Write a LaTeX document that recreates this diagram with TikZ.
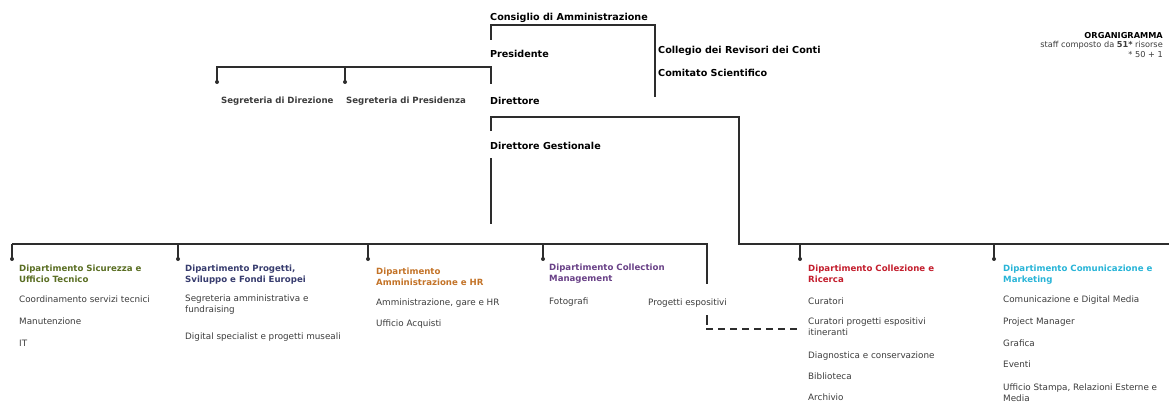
\documentclass[tikz,border=0pt]{standalone}
\usepackage{fontspec}
\setmainfont{DejaVu Sans}
\definecolor{ln}{RGB}{45,45,45}
\definecolor{tx}{RGB}{60,60,60}
\definecolor{dA}{RGB}{90,110,35}
\definecolor{dB}{RGB}{55,60,110}
\definecolor{dC}{RGB}{195,115,40}
\definecolor{dD}{RGB}{105,65,135}
\definecolor{dE}{RGB}{195,30,45}
\definecolor{dF}{RGB}{40,180,215}
\begin{document}
\begin{tikzpicture}[x=1pt,y=-1pt,
  lbl/.style={anchor=base west,inner sep=0pt,font=\fontsize{8.8}{11}\selectfont,text=tx,align=left},
  blbl/.style={anchor=base west,inner sep=0pt,font=\fontsize{9.6}{11}\selectfont\bfseries,text=black,align=left},
  sbl/.style={anchor=base west,inner sep=0pt,font=\fontsize{8.6}{11}\selectfont\bfseries,text=tx},
  dept/.style={lbl,font=\fontsize{8.6}{10.5}\selectfont\bfseries},
  conn/.style={draw=ln,line width=1.6pt},
  dot/.style={circle,fill=ln,inner sep=0pt,minimum size=4pt}]
\useasboundingbox (0,0) rectangle (1169,404);
% top titles
\node[blbl] (cda) at (490,21) {Consiglio di Amministrazione};
\node[blbl] (pres) at (490,57) {Presidente};
\node[blbl] (coll) at (658,54) {Collegio dei Revisori dei Conti};
\node[blbl] (comi) at (658,76) {Comitato Scientifico};
\node[blbl] (dir) at (490,104) {Direttore};
\node[blbl] (dirg) at (490,149) {Direttore Gestionale};
\node[sbl] (sd) at (221,103) {Segreteria di Direzione};
\node[sbl] (sp) at (346,103) {Segreteria di Presidenza};
\node[anchor=base east,inner sep=0pt,font=\fontsize{8.2}{9}\selectfont\bfseries] (org) at (1163,39) {ORGANIGRAMMA};
\node[anchor=base east,inner sep=0pt,font=\fontsize{8.2}{9}\selectfont,text=tx] (staff) at (1163,48) {staff composto da \textbf{51*} risorse};
\node[anchor=base east,inner sep=0pt,font=\fontsize{8.2}{9}\selectfont,text=tx] (note) at (1163,57) {* 50 + 1};
% connectors
\coordinate (c1) at (491,40);
\coordinate (c2) at (491,25);
\coordinate (c3) at (655,25);
\coordinate (c4) at (655,97);
\draw[conn] (c1) -- (c2) -- (c3) -- (c4);
\coordinate (s0) at (491,84);
\coordinate (s1) at (217,82);
\coordinate (s2) at (345,82);
\draw[conn] (s1) -- (217,67) -- (491,67) -- (s0);
\draw[conn] (345,67) -- (s2);
\node[dot] at (s1) {};
\node[dot] at (s2) {};
\coordinate (g1) at (491,131);
\draw[conn] (g1) -- (491,117) -- (739,117) -- (739,244) -- (1169,244);
\coordinate (g2) at (491,158);
\coordinate (g3) at (491,224);
\draw[conn] (g2) -- (g3);
\draw[conn] (12,244) -- (707,244) -- (707,284);
\foreach \xx in {12,178,368,543,800,994}{
  \draw[conn] (\xx,244) -- (\xx,258);
  \node[dot] at (\xx,259) {};
}
\draw[conn] (707,315) -- (707,325);
\draw[conn,dashed,dash pattern=on 7pt off 5pt] (706,329) -- (800,329);
% departments
\node[dept,text=dA] (d1) at (19,282) {Dipartimento Sicurezza e\\Ufficio Tecnico};
\node[lbl] at (19,302) {Coordinamento servizi tecnici};
\node[lbl] at (19,324) {Manutenzione};
\node[lbl] at (19,346) {IT};
\node[dept,text=dB] (d2) at (185,282) {Dipartimento Progetti,\\Sviluppo e Fondi Europei};
\node[lbl,font=\fontsize{8.8}{10.5}\selectfont] at (185,312) {Segreteria amministrativa e\\fundraising};
\node[lbl] at (185,339) {Digital specialist e progetti museali};
\node[dept,text=dC] (d3) at (376,285) {Dipartimento\\Amministrazione e HR};
\node[lbl] at (376,305) {Amministrazione, gare e HR};
\node[lbl] at (376,326) {Ufficio Acquisti};
\node[dept,text=dD] (d4) at (549,281) {Dipartimento Collection\\Management};
\node[lbl] at (549,304) {Fotografi};
\node[lbl] at (648,305) {Progetti espositivi};
\node[dept,text=dE] (d5) at (808,282) {Dipartimento Collezione e\\Ricerca};
\node[lbl] at (808,304) {Curatori};
\node[lbl,font=\fontsize{8.8}{10.5}\selectfont] at (808,335) {Curatori progetti espositivi\\itineranti};
\node[lbl] at (808,358) {Diagnostica e conservazione};
\node[lbl] at (808,379) {Biblioteca};
\node[lbl] at (808,400) {Archivio};
\node[dept,text=dF] (d6) at (1003,282) {Dipartimento Comunicazione e\\Marketing};
\node[lbl] at (1003,302) {Comunicazione e Digital Media};
\node[lbl] at (1003,324) {Project Manager};
\node[lbl] at (1003,346) {Grafica};
\node[lbl] at (1003,367) {Eventi};
\node[lbl,font=\fontsize{8.8}{10.5}\selectfont] at (1003,401) {Ufficio Stampa, Relazioni Esterne e\\Media};
\end{tikzpicture}
\end{document}
